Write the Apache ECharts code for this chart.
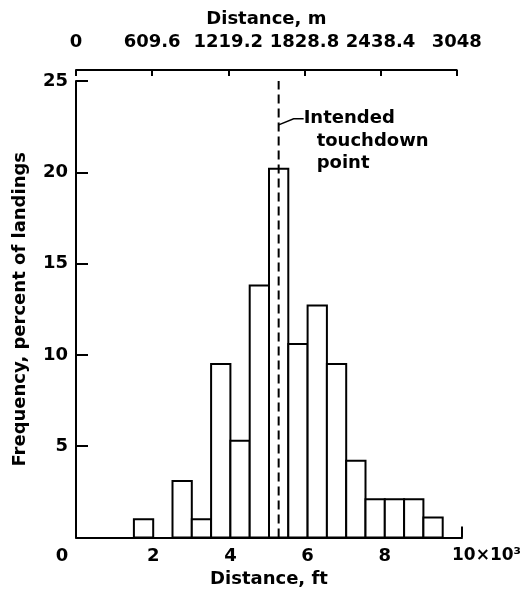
<!DOCTYPE html>
<html><head><meta charset="utf-8">
<script src="https://cdn.jsdelivr.net/npm/echarts@6/dist/echarts.min.js"></script>
<style>html,body{margin:0;padding:0;background:#fff}#c{width:520px;height:589px}</style>
</head><body><div id="c"></div>
<script>
const binStart = [1.5,2.0,2.5,3.0,3.5,4.0,4.5,5.0,5.5,6.0,6.5,7.0,7.5,8.0,8.5,9.0];
const binWidth = 0.5;
const freq = [1.0,0,3.1,1.0,9.5,5.3,13.8,20.2,10.6,12.7,9.5,4.2,2.1,2.1,2.1,1.1];
const ftTicks = [0,2,4,6,8,10];
const mLabels = ['0','609.6','1219.2','1828.8','2438.4','3048'];
const touchdownFt = 5.25;
const annotationY = 22.6;
const annotationText = ['Intended','touchdown','point'];

const FONT = 'DejaVu Sans';
const txt = {color:'#000', fontFamily:FONT, fontWeight:'bold', fontSize:18};
const chart = echarts.init(document.getElementById('c'), null, {renderer:'canvas'});
const option = {
  animation:false,
  backgroundColor:'#fff',
  grid:[
    {left:76, right:58, top:81, bottom:51.5, containLabel:false, outerBoundsMode:'none'},
    {left:76, top:60, width:380.7, height:10, containLabel:false, outerBoundsMode:'none'}
  ],
  xAxis:[
    {type:'value', gridIndex:0, position:'bottom', min:0, max:10, interval:2,
     axisLine:{show:true, onZero:false, lineStyle:{color:'#000', width:2}},
     axisTick:{show:true, inside:true, length:11, customValues:[10], lineStyle:{color:'#000', width:2}},
     splitLine:{show:false},
     axisLabel:Object.assign({}, txt, {margin:10,
       formatter:v => v===0 ? '{z|0}' : (v===10 ? '{e|10×10³}' : String(v)),
       rich:{z:Object.assign({}, txt, {padding:[0,28,0,0]}), e:Object.assign({}, txt, {fontSize:17, padding:[0,0,0,49]})}}),
     name:'Distance, ft', nameLocation:'middle', nameGap:30, nameTextStyle:txt},
    {type:'value', gridIndex:1, position:'top', min:0, max:10, interval:2,
     axisLine:{show:true, lineStyle:{color:'#000', width:2}},
     axisTick:{show:true, inside:true, length:6, lineStyle:{color:'#000', width:2}},
     splitLine:{show:false},
     axisLabel:Object.assign({}, txt, {margin:9, formatter:v => mLabels[ftTicks.indexOf(v)] || ''}),
     name:'Distance, m', nameLocation:'middle', nameGap:32, nameTextStyle:txt}
  ],
  yAxis:[
    {type:'value', gridIndex:0, min:0, max:25, interval:5,
     axisLine:{show:true, lineStyle:{color:'#000', width:2}},
     axisTick:{show:true, inside:true, length:12, lineStyle:{color:'#000', width:2}},
     splitLine:{show:false},
     axisLabel:Object.assign({}, txt, {margin:8, formatter:v => v===0 ? '' : String(v)}),
     name:'Frequency, percent of landings', nameLocation:'middle', nameGap:47, nameTextStyle:txt},
    {type:'value', gridIndex:1, show:false, min:0, max:1}
  ],
  series:[
    {type:'custom', xAxisIndex:0, yAxisIndex:0, z:2,
     data: binStart.map((s,i)=>[s, s+binWidth, freq[i]]),
     encode:{x:[0,1], y:2},
     renderItem:(params, api) => {
       const y = api.value(2);
       if (!(y > 0)) return null;
       const p0 = api.coord([api.value(0), y]);
       const p1 = api.coord([api.value(1), 0]);
       return {type:'rect', shape:{x:p0[0], y:p0[1], width:p1[0]-p0[0], height:p1[1]-p0[1]},
               style:{fill:'#fff', stroke:'#000', lineWidth:2}};
     }},
    {type:'line', xAxisIndex:0, yAxisIndex:0, z:3, symbol:'none',
     data:[[touchdownFt,0],[touchdownFt,25]],
     lineStyle:{color:'#000', width:2, type:[9,5]}}
  ]
};
chart.setOption(option);
const p = chart.convertToPixel({xAxisIndex:0, yAxisIndex:0}, [touchdownFt, annotationY]);
const elements = [
  {type:'polyline', shape:{points:[[p[0],p[1]],[p[0]+15,p[1]-6],[p[0]+25,p[1]-6]]}, style:{stroke:'#000', lineWidth:1.5, fill:null}}
];
annotationText.forEach((t,i)=>{
  elements.push({type:'text', x: i===0 ? p[0]+25 : p[0]+38, y: p[1]-6 + i*22.5,
    style:{text:t, fill:'#000', font:'bold 18px "DejaVu Sans"', textVerticalAlign:'middle', textAlign:'left'}});
});
chart.setOption({graphic:elements});
</script></body></html>
